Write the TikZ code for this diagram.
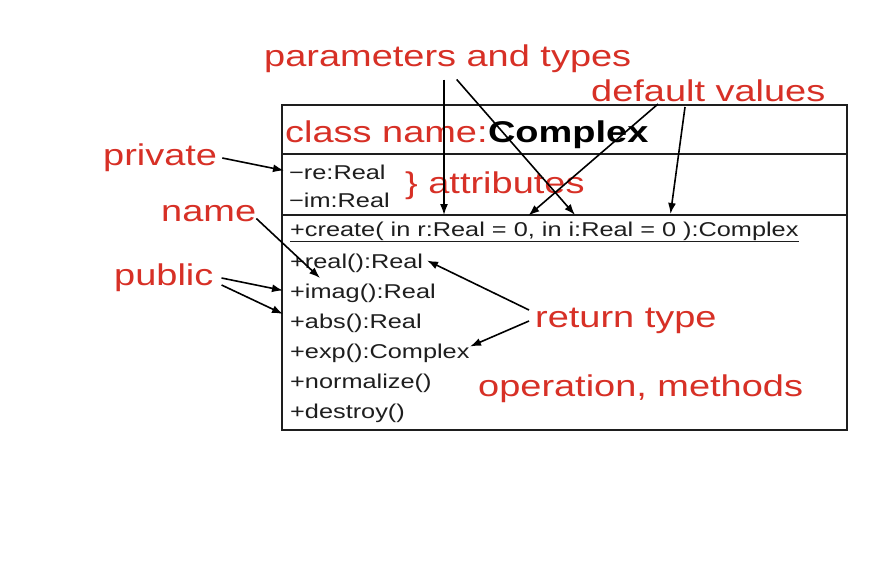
\documentclass[tikz,border=0pt]{standalone}
\usepackage{fontspec}
\setmainfont{Liberation Sans}
\newfontfamily\umlfont[FakeStretch=1.265]{Liberation Sans}
\usetikzlibrary{arrows.meta, positioning}

\definecolor{notered}{RGB}{215,48,38}
\definecolor{inkgray}{RGB}{30,30,30}

\tikzset{
  note/.style={text=notered, font=\umlfont\fontsize{30}{30}\selectfont,
    inner sep=0pt, anchor=base west},
  member/.style={text=inkgray, font=\umlfont\fontsize{20}{20}\selectfont,
    inner sep=0pt, anchor=base west},
  pointer/.style={draw=black, line width=1.6pt, -{Latex[length=11pt,width=8pt]}},
  frame/.style={draw=inkgray, line width=2.4pt},
}

\begin{document}
\begin{tikzpicture}[x=1pt,y=-1pt]
  \path[fill=white] (0,0) rectangle (880,576);

  % class box
  \draw[frame] (282,105) rectangle (847,430);
  \draw[frame] (282,154) -- (847,154);
  \draw[frame] (282,215) -- (847,215);

  % name compartment
  \node[note] (classname) at (285,142) {class name:};
  \node[note, text=black, font=\umlfont\bfseries\fontsize{30}{30}\selectfont]
    (complex) at (classname.base east) {Complex};

  % attributes
  \node[member] (re) at (289,179) {−re:Real};
  \node[member] (im) at (289,207.5) {−im:Real};
  \node[note] (attributes) at (405,193) {\} attributes};

  % operations
  \node[member] (create) at (290,236.5) {+create( in r:Real = 0, in i:Real = 0 ):Complex};
  \draw[inkgray, line width=1pt] ([yshift=-4.5pt]create.base west) -- ([yshift=-4.5pt]create.base east);
  \foreach \opname/\optext [count=\i from 0] in {real/+real():Real, imag/+imag():Real,
      abs/+abs():Real, exp/+exp():Complex, normalize/+normalize(), destroy/+destroy()}
    \node[member] (\opname) at (290,268+30*\i) {\optext};

  % notes
  \node[note] (params) at (264,66.5) {parameters and types};
  \node[note] (defaults) at (591,101.5) {default values};
  \node[note] (private) at (103,165) {private};
  \node[note] (name) at (161,221.5) {name};
  \node[note] (public) at (114,285) {public};
  \node[note] (rettype) at (535,327) {return type};
  \node[note] (operations) at (478,396.5) {operation, methods};

  % arrow tips
  \coordinate (tip re) at (284,170.5);
  \coordinate (tip name) at (320,278);
  \coordinate (tip imag) at (283,290.5);
  \coordinate (tip abs) at (283,314);
  \coordinate (tip real) at (427,260.5);
  \coordinate (tip exp) at (470,346.5);
  \coordinate (tip r) at (444,215);
  \coordinate (tip i) at (575,215);
  \coordinate (tip r0) at (528.5,215.5);
  \coordinate (tip i0) at (670.5,214);

  \draw[pointer] ([shift={(5pt,7pt)}]private.base east) -- (tip re);
  \draw[pointer] ([shift={(0pt,3pt)}]name.base east) -- (tip name);
  \draw[pointer] ([shift={(8pt,7pt)}]public.base east) -- (tip imag);
  \draw[pointer] ([shift={(8pt,0pt)}]public.base east) -- (tip abs);
  \draw[pointer] ([shift={(-6pt,17pt)}]rettype.base west) -- (tip real);
  \draw[pointer] ([shift={(-6pt,6pt)}]rettype.base west) -- (tip exp);
  \draw[pointer] ([shift={(180pt,-13pt)}]params.base west) -- (tip r);
  \draw[pointer] ([shift={(192.7pt,-13pt)}]params.base west) -- (tip i);
  \draw[pointer] ([shift={(67pt,-2.5pt)}]defaults.base west) -- (tip r0);
  \draw[pointer] ([shift={(94pt,-5.5pt)}]defaults.base west) -- (tip i0);
\end{tikzpicture}
\end{document}
